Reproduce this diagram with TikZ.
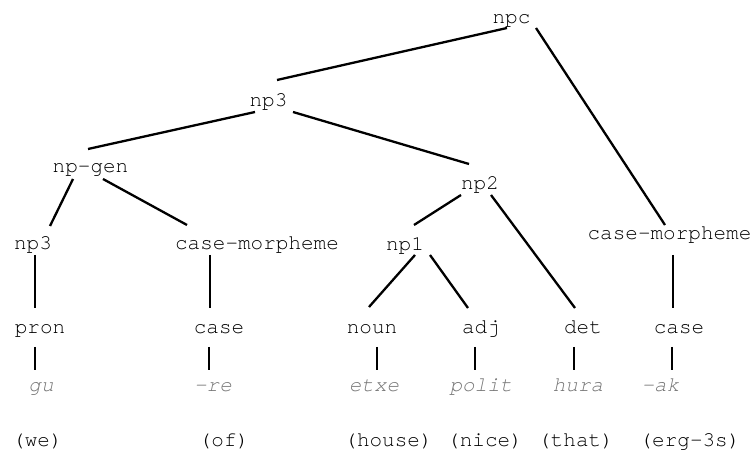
\documentclass[tikz,border=0pt]{standalone}
\usepackage{fontspec}
\setmonofont{TeX Gyre Cursor}
\definecolor{wordgray}{HTML}{767676}
\tikzset{
  lbl/.style={font=\fontsize{21}{25}\selectfont\ttfamily, inner sep=0pt, anchor=base},
  word/.style={lbl, font=\fontsize{21}{25}\selectfont\ttfamily\itshape, text=wordgray},
  edge/.style={line width=2.3pt, black}
}
\begin{document}
\begin{tikzpicture}[x=1pt,y=1pt]
\useasboundingbox (0,0) rectangle (755,452);
% nodes (x = centre, y = 452 - baseline)
\node[lbl] (npc)   at (511.5,428.7) {npc};
\node[lbl] (np3a)  at (268.5,345) {np3};
\node[lbl] (npgen) at (90.5,279) {np-gen};
\node[lbl] (np2)   at (480,262) {np2};
\node[lbl] (np3b)  at (33,202) {np3};
\node[lbl] (cmL)   at (257,202) {case-morpheme};
\node[lbl] (np1)   at (405,201) {np1};
\node[lbl] (cmR)   at (669.5,212) {case-morpheme};
\node[lbl] (pron)  at (40,118.5) {pron};
\node[lbl] (caseL) at (219,118.5) {case};
\node[lbl] (noun)  at (372,118.5) {noun};
\node[lbl] (adj)   at (481,118.5) {adj};
\node[lbl] (det)   at (583,118.5) {det};
\node[lbl] (caseR) at (679,118.5) {case};
\node[word] (gu)    at (41,60.5) {gu};
\node[word] (re)    at (213,60.5) {-re};
\node[word] (etxe)  at (374,60.5) {etxe};
\node[word] (polit) at (481,60.5) {polit};
\node[word] (hura)  at (578,60.5) {hura};
\node[word] (ak)    at (660.5,60.5) {-ak};
\node[lbl] (gwe)    at (37.5,5.5) {(we)};
\node[lbl] (gof)    at (224,5.5) {(of)};
\node[lbl] (ghouse) at (388.5,5.5) {(house)};
\node[lbl] (gnice)  at (485,5.5) {(nice)};
\node[lbl] (gthat)  at (576,5.5) {(that)};
\node[lbl] (gerg)   at (690,5.5) {(erg-3s)};
% connectors
\draw[edge] ([shift={(-4.5,-4.7)}]npc.base) -- ([shift={(8.5,27)}]np3a.base);
\draw[edge] ([shift={(24.5,-4.7)}]npc.base) -- ([shift={(-4.5,15)}]cmR.base);
\draw[edge] ([shift={(-13.5,-5)}]np3a.base) -- ([shift={(-2.5,24)}]npgen.base);
\draw[edge] ([shift={(24.5,-5)}]np3a.base) -- ([shift={(-11,26)}]np2.base);
\draw[edge] ([shift={(-17.5,-6)}]npgen.base) -- ([shift={(17,24)}]np3b.base);
\draw[edge] ([shift={(12.5,-6)}]npgen.base) -- ([shift={(-70,25)}]cmL.base);
\draw[edge] ([shift={(-19,-5)}]np2.base) -- ([shift={(9,26)}]np1.base);
\draw[edge] ([shift={(11,-5)}]np2.base) -- ([shift={(-8,25.5)}]det.base);
\draw[edge] ([shift={(10,-4)}]np1.base) -- ([shift={(-3,26.5)}]noun.base);
\draw[edge] ([shift={(25,-4)}]np1.base) -- ([shift={(-13,25.5)}]adj.base);
\draw[edge] ([shift={(2,-5)}]np3b.base) -- ([shift={(-5,25.5)}]pron.base);
\draw[edge] ([shift={(-47,-5)}]cmL.base) -- ([shift={(-9,25.5)}]caseL.base);
\draw[edge] ([shift={(3.5,-15)}]cmR.base) -- ([shift={(-6,25.5)}]caseR.base);
\draw[edge] ([shift={(-5,-13.5)}]pron.base) -- ([shift={(-6,21.5)}]gu.base);
\draw[edge] ([shift={(-10,-13.5)}]caseL.base) -- ([shift={(-4,21.5)}]re.base);
\draw[edge] ([shift={(5,-13.5)}]noun.base) -- ([shift={(3,21.5)}]etxe.base);
\draw[edge] ([shift={(-6,-13.5)}]adj.base) -- ([shift={(-6,21.5)}]polit.base);
\draw[edge] ([shift={(-9,-13.5)}]det.base) -- ([shift={(-4,21.5)}]hura.base);
\draw[edge] ([shift={(-7,-13.5)}]caseR.base) -- ([shift={(11.5,21.5)}]ak.base);
\end{tikzpicture}
\end{document}
